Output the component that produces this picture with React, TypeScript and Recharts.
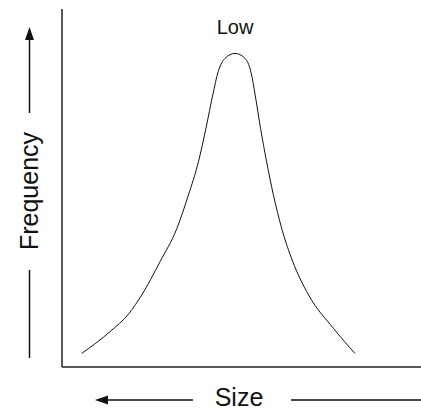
import React from "react";
import { LineChart, Line, XAxis, YAxis, ReferenceDot, Label } from "recharts";

// Size (x) and frequency (y), arbitrary 0-100 units
const sizes = [5.5, 13.4, 18.7, 22.2, 27.3, 32.0, 35.2, 38.0, 40.1, 42.0, 43.5, 45.4, 48.2, 51.0, 52.6, 53.8, 55.3, 57.0, 58.9, 61.2, 64.3, 68.7, 75.6, 81.6];
const frequencies = [3.8, 9.9, 15.0, 20.1, 29.4, 38.7, 48.0, 57.3, 66.7, 76.0, 82.5, 86.2, 87.6, 86.2, 82.5, 76.0, 66.7, 57.3, 48.0, 38.7, 29.4, 20.1, 10.8, 3.8];

const peakLabel = "Low";
const xTitle = "Size";
const yTitle = "Frequency";

const FONT = "'Liberation Sans', Arial, sans-serif";
const INK = "#111";

const data = sizes.map((s, i) => ({ size: s, freq: frequencies[i] }));
const peakIndex = frequencies.indexOf(Math.max(...frequencies));

function SizeTitle(props: any) {
  const { x, y } = props.viewBox;
  const cy = y + 33;
  const cx = x + 177;
  return (
    <g>
      <text x={cx} y={cy + 6} textAnchor="middle" fontSize={25} fontFamily={FONT} fill={INK}>
        {xTitle}
      </text>
      <line x1={x + 45} y1={cy} x2={x + 131} y2={cy} stroke={INK} strokeWidth={1.5} />
      <polygon points={`${x + 33},${cy} ${x + 46},${cy - 4.5} ${x + 46},${cy + 4.5}`} fill={INK} />
      <line x1={x + 229} y1={cy} x2={x + 359} y2={cy} stroke={INK} strokeWidth={1.5} />
    </g>
  );
}

function FrequencyTitle(props: any) {
  const { y } = props.viewBox;
  const ax = 29.5;
  const tx = 38;
  const ty = y + 182;
  return (
    <g>
      <text
        x={tx}
        y={ty}
        transform={`rotate(-90, ${tx}, ${ty})`}
        textAnchor="middle"
        fontSize={25}
        fontFamily={FONT}
        fill={INK}
      >
        {yTitle}
      </text>
      <line x1={ax} y1={y + 30} x2={ax} y2={y + 104} stroke={INK} strokeWidth={1.5} />
      <polygon points={`${ax},${y + 18} ${ax - 4.5},${y + 31} ${ax + 4.5},${y + 31}`} fill={INK} />
      <line x1={ax} y1={y + 261} x2={ax} y2={y + 349} stroke={INK} strokeWidth={1.5} />
    </g>
  );
}

export default function App() {
  return (
    <div style={{ position: "absolute", left: 0, top: 0, background: "#fff" }}>
      <LineChart width={421} height={412} data={data} margin={{ top: 9, right: 0, left: 0, bottom: 0 }}>
        <XAxis
          type="number"
          dataKey="size"
          domain={[0, 100]}
          height={45}
          tick={false}
          tickLine={false}
          axisLine={{ stroke: "#222", strokeWidth: 1.5 }}
        >
          <Label content={<SizeTitle />} />
        </XAxis>
        <YAxis
          type="number"
          domain={[0, 100]}
          width={62}
          tick={false}
          tickLine={false}
          axisLine={{ stroke: "#222", strokeWidth: 1.5 }}
        >
          <Label content={<FrequencyTitle />} />
        </YAxis>
        <Line
          type="monotone"
          dataKey="freq"
          stroke={INK}
          strokeWidth={1}
          dot={false}
          activeDot={false}
          isAnimationActive={false}
        />
        <ReferenceDot
          x={sizes[peakIndex]}
          y={frequencies[peakIndex]}
          r={0}
          stroke="none"
          label={{ value: peakLabel, position: "top", offset: 19, fontSize: 20, fontFamily: FONT, fill: INK }}
        />
      </LineChart>
    </div>
  );
}
